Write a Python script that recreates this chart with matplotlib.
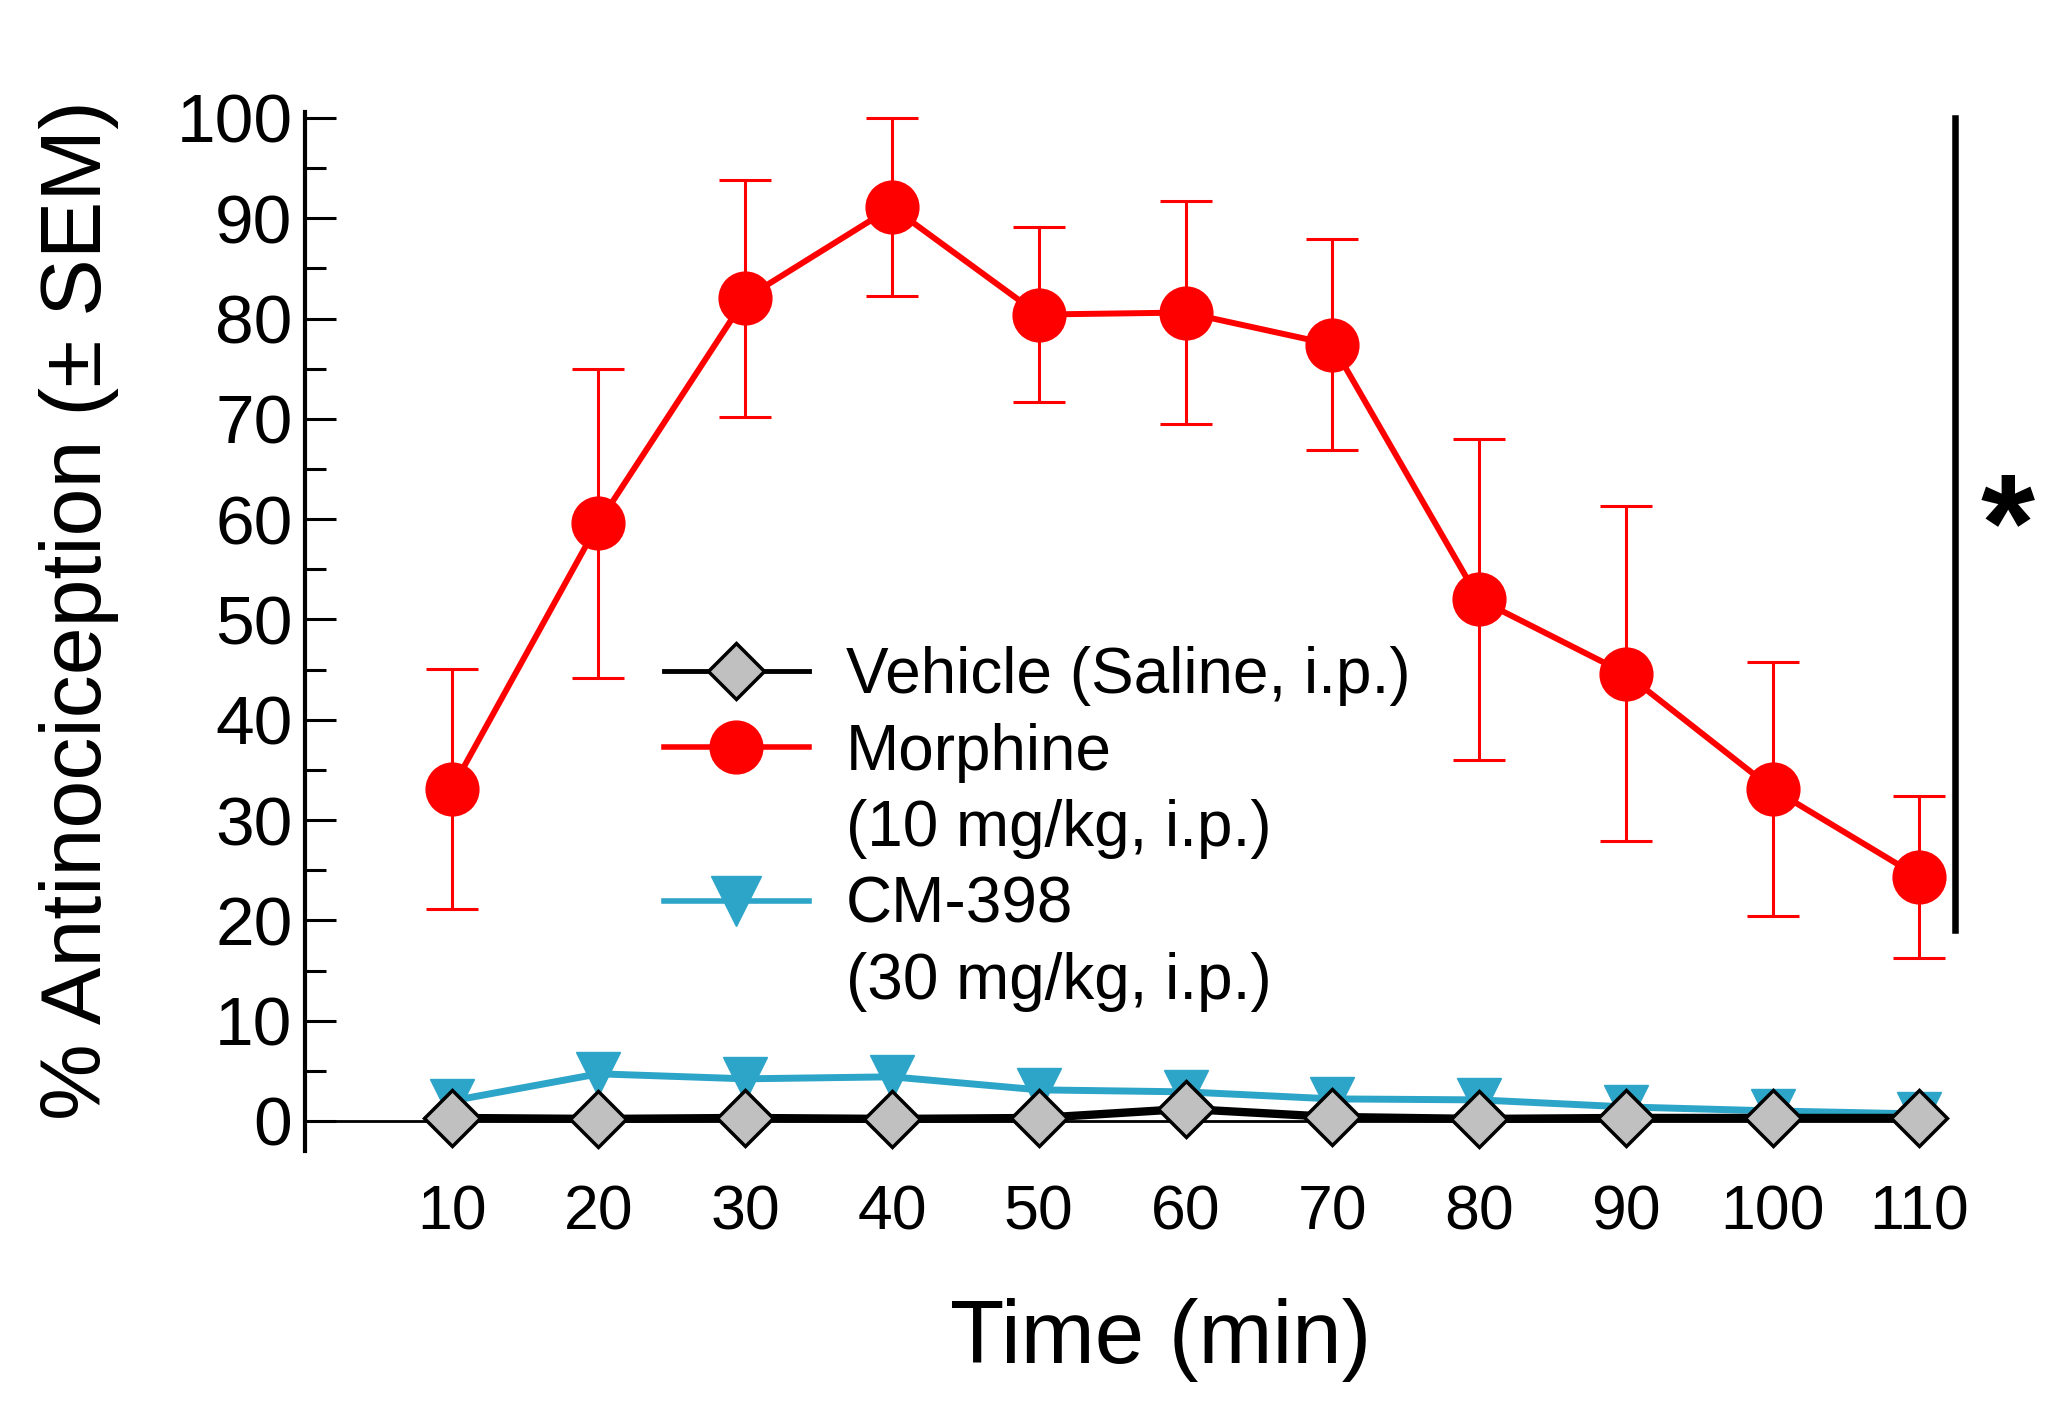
import matplotlib
matplotlib.use("Agg")
import matplotlib.pyplot as plt
from matplotlib.lines import Line2D
import numpy as np

plt.rcParams['font.family'] = ['Liberation Sans', 'DejaVu Sans']

# ---- data ----
time_min = [10, 20, 30, 40, 50, 60, 70, 80, 90, 100, 110]
vehicle = [0.3, 0.2, 0.3, 0.2, 0.3, 1.2, 0.4, 0.2, 0.3, 0.3, 0.3]
morphine = [33.1, 59.6, 82.0, 91.1, 80.4, 80.6, 77.4, 52.0, 44.6, 33.1, 24.3]
morphine_sem = [12.0, 15.4, 11.8, 8.9, 8.7, 11.1, 10.5, 16.0, 16.7, 12.7, 8.1]
cm398 = [2.0, 4.7, 4.2, 4.4, 3.1, 2.9, 2.2, 2.1, 1.4, 1.0, 0.7]
x_ticks = [10, 20, 30, 40, 50, 60, 70, 80, 90, 100, 110]
y_ticks = [0, 10, 20, 30, 40, 50, 60, 70, 80, 90, 100]
legend_labels = ["Vehicle (Saline, i.p.)", "Morphine", "(10 mg/kg, i.p.)",
                 "CM-398", "(30 mg/kg, i.p.)"]
sig_range = [19, 100]

RED = '#ff0000'
CYAN = '#2ca5c8'
GRAY = '#c0c0c0'

fig = plt.figure(figsize=(20.63, 14.08), dpi=100)
ax = fig.add_axes([0.1478, 0.1825, 0.8395, 0.738])

# CM-398
ax.plot(time_min, cm398, color=CYAN, lw=5, marker='v', ms=32,
        mfc=CYAN, mec=CYAN, zorder=3, clip_on=False)
# Vehicle
ax.plot(time_min, vehicle, color='black', lw=6, marker='D', ms=29,
        mfc=GRAY, mec='black', mew=2.5, zorder=4, clip_on=False)
# Morphine
ax.errorbar(time_min, morphine, yerr=morphine_sem, fmt='none', ecolor=RED,
            elinewidth=2.2, capsize=19, capthick=2.2, zorder=5, clip_on=False)
ax.plot(time_min, morphine, color=RED, lw=4.3, marker='o', ms=38,
        mfc=RED, mec=RED, zorder=6, clip_on=False)

ax.set_xlim(0, 118)
ax.set_ylim(-3.0, 100.6)

for s in ['top', 'right']:
    ax.spines[s].set_visible(False)
ax.spines['left'].set_linewidth(3)
ax.spines['bottom'].set_position(('data', 0))
ax.spines['bottom'].set_bounds(0, 111)
ax.spines['bottom'].set_linewidth(2)
ax.spines['bottom'].set_zorder(2)

ax.set_xticks(x_ticks)
ax.set_xticklabels([str(v) for v in x_ticks])
ax.tick_params(axis='x', length=0, pad=45, labelsize=45)
ax.set_yticks(y_ticks)
ax.set_yticks(np.arange(5, 100, 10), minor=True)
ax.tick_params(axis='y', which='major', direction='in', length=22, width=2.2,
               pad=9, labelsize=50)
ax.tick_params(axis='y', which='minor', direction='in', length=15, width=2.2)

ax.set_ylabel("% Antinociception (± SEM)", fontsize=62)
ax.yaxis.set_label_coords(-0.1305, 0.521)
ax.yaxis.label.set_va('center')
ax.set_xlabel("Time (min)", fontsize=64)
ax.xaxis.set_label_coords(0.494, -0.182)
ax.xaxis.label.set_va('center')

# significance bar
ax.plot([112.4, 112.4], sig_range, color='black', lw=4.7, clip_on=False)
ax.text(116, 58.5, "*", fontsize=100, fontweight='bold', ha='center',
        va='center', clip_on=False)

handles = [
    Line2D([], [], color='black', lw=3.5, marker='D', ms=29, mfc=GRAY,
           mec='black', mew=2.5),
    Line2D([], [], color=RED, lw=4, marker='o', ms=38, mfc=RED, mec=RED),
    Line2D([], [], color='none'),
    Line2D([], [], color=CYAN, lw=4, marker='v', ms=36, mfc=CYAN, mec=CYAN),
    Line2D([], [], color='none'),
]
ax.legend(handles, legend_labels, loc='upper left',
          bbox_to_anchor=(0.2073, 0.486), frameon=False, fontsize=46,
          handlelength=2.27, handletextpad=0.58, labelspacing=0.26,
          borderpad=0, borderaxespad=0)

fig.savefig("out.png", dpi=100)
